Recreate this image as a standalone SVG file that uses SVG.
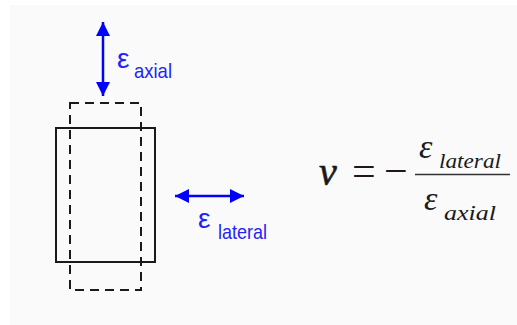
<svg xmlns="http://www.w3.org/2000/svg" width="517" height="325" viewBox="0 0 517 325">
<defs>
<marker id="ah" viewBox="0 0 14 14" refX="14" refY="7" markerWidth="14" markerHeight="14" markerUnits="userSpaceOnUse" orient="auto-start-reverse">
<path d="M0,0 L14,7 L0,14 Z" fill="#0000ff"/>
</marker>
</defs>
<style>
.solid{fill:none;stroke:#1a1a1a;stroke-width:2}
.dash{fill:none;stroke:#1a1a1a;stroke-width:2;stroke-dasharray:9,6}
.arrow{stroke:#0000ff;stroke-width:2.5;fill:none}
.lab{font-family:"Liberation Sans",Arial,sans-serif;fill:#2222ff}
.math{font-family:"Liberation Serif","Times New Roman",serif;font-style:italic;fill:#1a1a1a}
.op{font-family:"Liberation Serif","Times New Roman",serif;fill:#1a1a1a}
</style>
<rect x="0" y="0" width="517" height="325" fill="#ffffff"/>
<rect x="10" y="5" width="507" height="320" fill="#fafafa"/>
<g id="specimen">
<rect class="solid" x="56" y="128" width="99" height="134"/>
</g>
<g id="deformed">
<rect class="dash" x="70" y="103" width="71" height="187"/>
</g>
<g id="connectors">
<line class="arrow" x1="103" y1="22" x2="103" y2="96" marker-start="url(#ah)" marker-end="url(#ah)"/>
<line class="arrow" x1="175" y1="196" x2="244" y2="196" marker-start="url(#ah)" marker-end="url(#ah)"/>
</g>
<g id="label-axial">
<text class="lab" x="117" y="68" font-size="28">ε</text>
<text class="lab" x="134" y="78" font-size="21" textLength="38" lengthAdjust="spacingAndGlyphs">axial</text>
</g>
<g id="label-lateral">
<text class="lab" x="198" y="228" font-size="28">ε</text>
<text class="lab" x="218" y="239" font-size="21" textLength="49" lengthAdjust="spacingAndGlyphs">lateral</text>
</g>
<g id="formula">
<text class="math" x="319" y="185" font-size="40" stroke="#1a1a1a" stroke-width="0.6">ν</text>
<text class="op" x="352" y="185" font-size="42">=</text>
<text class="op" x="384" y="185" font-size="42">−</text>
<line x1="415" y1="174.5" x2="510" y2="174.5" stroke="#333" stroke-width="1.6"/>
<text class="math" x="419" y="158" font-size="34">ε</text>
<text class="math" x="439" y="168" font-size="22" textLength="62" lengthAdjust="spacingAndGlyphs">lateral</text>
<text class="math" x="424" y="210" font-size="34">ε</text>
<text class="math" x="444" y="220" font-size="22" textLength="52" lengthAdjust="spacingAndGlyphs">axial</text>
</g>
</svg>
